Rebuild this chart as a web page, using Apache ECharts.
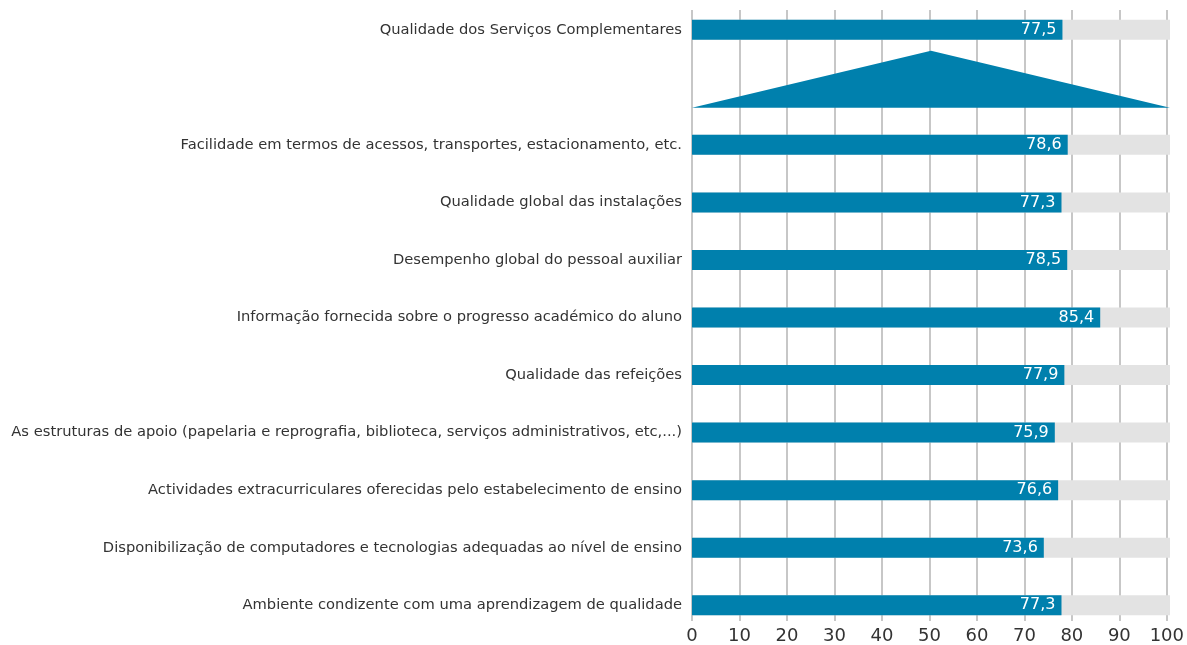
<!DOCTYPE html>
<html>
<head>
<meta charset="utf-8">
<script src="https://cdn.jsdelivr.net/npm/echarts@6/dist/echarts.min.js"></script>
<style>
  html, body { margin: 0; padding: 0; background: #fff; }
  #chart { width: 1187px; height: 645px; }
</style>
</head>
<body>
<div id="chart"></div>
<script>
// categories, top to bottom; the empty slot holds the triangle
const categories = [
  'Qualidade dos Serviços Complementares',
  '',
  'Facilidade em termos de acessos, transportes, estacionamento, etc.',
  'Qualidade global das instalações',
  'Desempenho global do pessoal auxiliar',
  'Informação fornecida sobre o progresso académico do aluno',
  'Qualidade das refeições',
  'As estruturas de apoio (papelaria e reprografia, biblioteca, serviços administrativos, etc,...)',
  'Actividades extracurriculares oferecidas pelo estabelecimento de ensino',
  'Disponibilização de computadores e tecnologias adequadas ao nível de ensino',
  'Ambiente condizente com uma aprendizagem de qualidade',
]
const scores = [77.5, null, 78.6, 77.3, 78.5, 85.4, 77.9, 75.9, 76.6, 73.6, 77.3]
const maxScore = [100, null, 100, 100, 100, 100, 100, 100, 100, 100, 100]
const xTicks = [0, 10, 20, 30, 40, 50, 60, 70, 80, 90, 100]
const triangleRow = 1

const blue = '#0080ad'
const font = 'DejaVu Sans'

const chart = echarts.init(document.getElementById('chart'))

const option = {
  animation: false,
  grid: [
    { left: 692, right: 17, top: 10, bottom: 23 },
    { left: 692, right: 17, top: 1, bottom: 11 },
  ],
  xAxis: [
    {
      gridIndex: 0,
      type: 'value',
      min: xTicks[0],
      max: xTicks[xTicks.length - 1],
      interval: 10,
      axisLine: { show: false },
      axisTick: { show: false },
      splitLine: { lineStyle: { color: '#b4b4b4', width: 1.5 } },
      axisLabel: { color: '#333', fontSize: 18, fontFamily: font, margin: 6 },
    },
    {
      gridIndex: 1,
      type: 'value',
      min: 0,
      max: 100,
      show: false,
    },
  ],
  yAxis: [
    {
      gridIndex: 0,
      type: 'category',
      data: categories,
      show: false,
    },
    {
      gridIndex: 1,
      type: 'category',
      data: categories,
      inverse: true,
      axisLine: { show: false },
      axisTick: { show: false },
      axisLabel: { color: '#333', fontSize: 14.7, fontFamily: font, margin: 10 },
    },
  ],
  series: [
    {
      type: 'bar',
      xAxisIndex: 1,
      yAxisIndex: 1,
      data: maxScore,
      barWidth: 20,
      itemStyle: { color: '#e3e3e3' },
      silent: true,
      z: 2,
    },
    {
      type: 'bar',
      xAxisIndex: 1,
      yAxisIndex: 1,
      data: scores,
      barWidth: 20,
      barGap: '-100%',
      itemStyle: { color: blue },
      label: {
        show: true,
        position: 'insideRight',
        color: '#fff',
        fontSize: 16,
        fontFamily: font,
        distance: 6,
        formatter: p => p.value.toFixed(1).replace('.', ','),
      },
      z: 3,
    },
    {
      type: 'custom',
      xAxisIndex: 1,
      yAxisIndex: 1,
      data: [[triangleRow]],
      renderItem(params, api) {
        const band = api.size([0, 1])[1]
        const left = api.coord([0, triangleRow])
        const mid = api.coord([50, triangleRow])
        const right = api.coord([100, triangleRow])
        return {
          type: 'polygon',
          shape: {
            points: [
              [left[0], left[1] + band * 0.357],
              [mid[0], mid[1] - band * 0.635],
              [right[0], right[1] + band * 0.357],
            ],
          },
          style: { fill: blue },
        }
      },
      z: 3,
    },
  ],
}

chart.setOption(option)
window.addEventListener('resize', () => {
  chart.resize()
})
</script>
</body>
</html>
